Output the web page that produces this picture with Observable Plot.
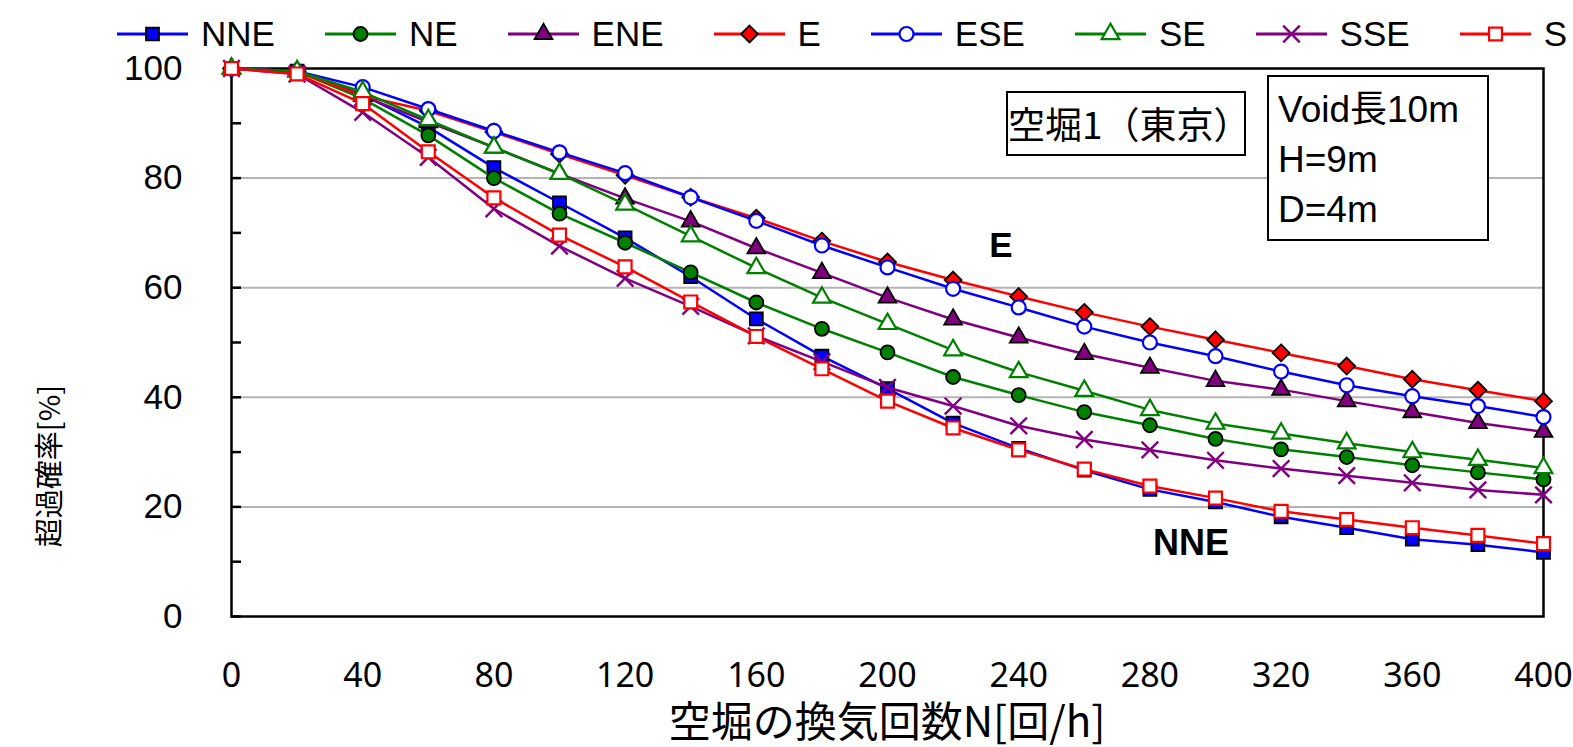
<!DOCTYPE html>
<html>
<head>
<meta charset="utf-8">
<script src="https://cdn.jsdelivr.net/npm/d3@7"></script>
<script src="https://cdn.jsdelivr.net/npm/@observablehq/plot@0.6"></script>
<style>
  html, body { margin: 0; padding: 0; background: #fff; }
  #wrap { position: relative; width: 1573px; height: 747px; overflow: hidden; background: #fff; }
  #legend { position: absolute; left: 117px; top: 0; height: 68px; display: flex; align-items: center; gap: 50px;
            font-family: "Liberation Sans", Arial, sans-serif; font-size: 35px; color: #000; }
  .item { display: flex; align-items: center; gap: 13px; }
  #chart { position: absolute; left: 0; top: 62px; }
  .box { position: absolute; border: 2px solid #000; background: #fff; box-sizing: border-box; color: #000; }
  .lbl { position: absolute; transform: translate(-50%, -50%); white-space: nowrap; color: #000; line-height: 1; }
</style>
</head>
<body>
<div id="wrap">
  <div id="legend"></div>
  <div id="chart"></div>
  <div class="box" style="left:1006px;top:91px;width:240px;height:65px;display:flex;align-items:center;justify-content:center;font-family:'Noto Sans CJK JP',sans-serif;font-size:37px;line-height:1;">空堀1（東京）</div>
  <div class="box" style="left:1267px;top:75px;width:222px;height:166px;padding:8px 0 0 9px;font-family:'Liberation Sans','Noto Sans CJK JP',sans-serif;font-size:37px;line-height:50px;">Void長10m<br>H=9m<br>D=4m</div>
  <div class="lbl" style="left:1001px;top:244px;font-family:'Liberation Sans',sans-serif;font-weight:bold;font-size:35px;">E</div>
  <div class="lbl" style="left:1191px;top:543px;font-family:'Liberation Sans',sans-serif;font-weight:bold;font-size:36px;">NNE</div>
  <div class="lbl" style="left:47px;top:466px;transform:translate(-50%,-50%) rotate(-90deg);font-family:'Noto Sans CJK JP',sans-serif;font-size:29px;">超過確率[%]</div>
  <div class="lbl" style="left:887px;top:719px;font-family:'Noto Sans CJK JP',sans-serif;font-size:42px;">空堀の換気回数N[回/h]</div>
</div>
<script>
// ---- data ----
const N = [0, 20, 40, 60, 80, 100, 120, 140, 160, 180, 200, 220, 240, 260, 280, 300, 320, 340, 360, 380, 400];
const seriesNames = ["NNE", "NE", "ENE", "E", "ESE", "SE", "SSE", "S"];
const NNE = [100, 99.5, 95.2, 89.3, 81.9, 75.5, 69.1, 62.0, 54.3, 47.5, 41.6, 35.3, 30.7, 26.7, 23.2, 20.9, 18.2, 16.2, 14.1, 13.1, 11.7];
const NE  = [100, 99.5, 94.5, 87.8, 80.0, 73.5, 68.2, 62.8, 57.3, 52.5, 48.2, 43.7, 40.4, 37.3, 34.9, 32.4, 30.5, 29.1, 27.6, 26.3, 25.0];
const ENE = [100, 99.5, 95.0, 90.2, 85.6, 80.8, 76.3, 72.1, 67.2, 62.7, 58.2, 54.2, 50.9, 47.9, 45.4, 43.0, 41.4, 39.3, 37.3, 35.3, 33.7];
const E   = [100, 99.5, 95.0, 92.3, 88.4, 84.4, 80.5, 76.5, 72.7, 68.5, 64.7, 61.4, 58.4, 55.5, 52.9, 50.5, 48.1, 45.7, 43.3, 41.3, 39.3];
const ESE = [100, 99.5, 96.6, 92.6, 88.6, 84.7, 80.9, 76.5, 72.2, 67.7, 63.7, 59.8, 56.4, 52.9, 50.0, 47.5, 44.7, 42.2, 40.2, 38.4, 36.4];
const SE  = [100, 99.5, 95.7, 90.6, 85.6, 80.8, 75.2, 69.4, 63.6, 58.2, 53.4, 48.6, 44.6, 41.2, 37.7, 35.2, 33.4, 31.6, 30.0, 28.6, 27.1];
const SSE = [100, 99.0, 92.0, 83.8, 74.4, 67.6, 61.7, 56.6, 51.2, 46.5, 41.8, 38.4, 34.8, 32.3, 30.4, 28.5, 27.0, 25.7, 24.4, 23.1, 22.2];
const S   = [100, 99.0, 93.6, 84.8, 76.4, 69.6, 63.8, 57.4, 51.1, 45.2, 39.3, 34.4, 30.4, 26.9, 23.8, 21.6, 19.2, 17.7, 16.2, 14.8, 13.3];
const seriesValues = [NNE, NE, ENE, E, ESE, SE, SSE, S];
const xTicks = [0, 40, 80, 120, 160, 200, 240, 280, 320, 360, 400];
const yTicks = [0, 20, 40, 60, 80, 100];
const yMinorTicks = [0, 10, 20, 30, 40, 50, 60, 70, 80, 90, 100];
const gridValues = [20, 40, 60, 80];

// ---- styles ----
const colors = ["#0000ff", "#008000", "#800080", "#ff0000", "#0000ff", "#008000", "#800080", "#ff0000"];
const symbols = [d3.symbolSquare, d3.symbolCircle, d3.symbolTriangle, d3.symbolDiamond2,
                 d3.symbolCircle, d3.symbolTriangle, d3.symbolTimes, d3.symbolSquare];
const kinds = ["filled", "filled", "filled", "filled", "open", "open", "cross", "open"];
const radii = [7.3, 7, 6.6, 7.6, 7, 6.6, 7.6, 7.3];

function markerStyle(i) {
  if (kinds[i] === "filled") return {fill: colors[i], stroke: "#000", strokeWidth: 1.8};
  if (kinds[i] === "open") return {fill: "#fff", stroke: colors[i], strokeWidth: 2.2};
  return {fill: "none", stroke: colors[i], strokeWidth: 2.4};
}

const rows = seriesNames.flatMap((s, i) => N.map((n, j) => ({series: s, n, p: seriesValues[i][j]})));

const seriesMarks = seriesNames.flatMap((s, i) => {
  const d = rows.filter(r => r.series === s);
  const ms = markerStyle(i);
  return [
    Plot.line(d, {x: "n", y: "p", stroke: colors[i], strokeWidth: 2.5}),
    Plot.dot(d, {x: "n", y: "p", symbol: symbols[i], r: radii[i], fill: ms.fill, stroke: ms.stroke, strokeWidth: ms.strokeWidth})
  ];
});

const chart = Plot.plot({
  width: 1573,
  height: 685,
  marginTop: 6,
  marginBottom: 131,
  marginLeft: 231,
  marginRight: 30,
  style: {background: "transparent", overflow: "visible", color: "#000"},
  x: {domain: [0, 400]},
  y: {domain: [0, 100]},
  marks: [
    Plot.gridY(gridValues, {stroke: "#b4b4b4", strokeOpacity: 1, strokeWidth: 2}),
    Plot.axisY(yMinorTicks, {tickSize: -10, tickFormat: () => "", strokeWidth: 2.5, label: null}),
    Plot.axisY(yTicks, {tickSize: 0, tickPadding: 49, fontSize: 35, fontFamily: "Liberation Sans, Arial, sans-serif", label: null}),
    Plot.axisX(xTicks, {tickSize: 0, tickPadding: 46, fontSize: 34, fontFamily: "Noto Sans, sans-serif", label: null}),
    Plot.frame({stroke: "#000", strokeWidth: 2.5}),
    ...seriesMarks
  ]
});
document.getElementById("chart").appendChild(chart);

// ---- legend ----
const legend = d3.select("#legend");
seriesNames.forEach((s, i) => {
  const item = legend.append("div").attr("class", "item");
  const svg = item.append("svg").attr("width", 71).attr("height", 24);
  svg.append("line").attr("x1", 0).attr("x2", 71).attr("y1", 12).attr("y2", 12)
     .attr("stroke", colors[i]).attr("stroke-width", 3);
  const ms = markerStyle(i);
  svg.append("path").attr("transform", "translate(35.5,12)")
     .attr("d", d3.symbol(symbols[i], radii[i] * radii[i] * Math.PI)())
     .attr("fill", ms.fill).attr("stroke", ms.stroke).attr("stroke-width", ms.strokeWidth);
  item.append("span").text(s);
});
</script>
</body>
</html>
